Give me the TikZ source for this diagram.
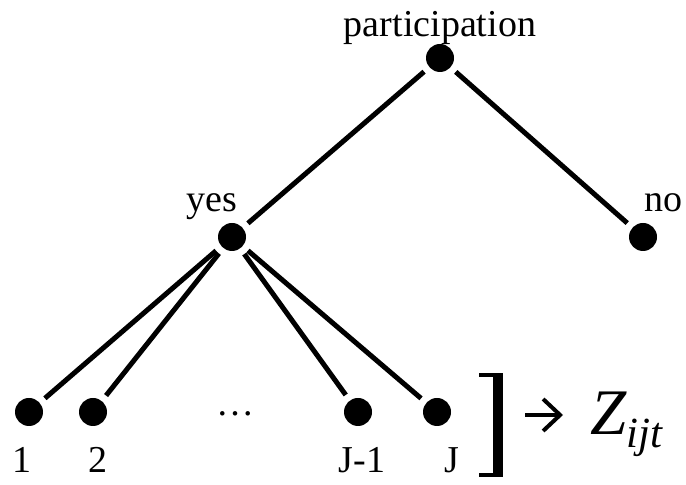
\documentclass[tikz,border=0pt]{standalone}
\usepackage{fontspec}
\setmainfont{Liberation Serif}
\usetikzlibrary{arrows.meta}
\begin{document}
\begin{tikzpicture}[x=0.5pt,y=-0.5pt,
  dot/.style={circle,fill=black,minimum size=14pt,inner sep=0pt,outer sep=3.5pt},
  edge/.style={line width=2.5pt},
  lbl/.style={anchor=base,inner sep=0pt,font=\fontsize{19}{22}\selectfont},
  brk/.style={fill=black},
]
\useasboundingbox (0,0) rectangle (686,485);
% nodes
\node[dot] (p) at (440,58) {};
\node[dot] (yes) at (232,237) {};
\node[dot] (no) at (643,237) {};
\node[dot] (b1) at (29,412) {};
\node[dot] (b2) at (93,412) {};
\node[dot] (bj1) at (358,412) {};
\node[dot] (bj) at (437,412) {};
% labels
\node[lbl] (lp) at (440,37) {participation};
\node[lbl] (lyes) at (212,212) {yes};
\node[lbl] (lno) at (663,212) {no};
\node[lbl] (l1) at (22,473) {1};
\node[lbl] (l2) at (98,473) {2};
\node[lbl] (lj1) at (362,473) {J-1};
\node[lbl] (lj) at (452,473) {J};
\node[lbl] (dots) at (235,416) {…};
% edges
\draw[edge] (p) -- (yes);
\draw[edge] (p) -- (no);
\draw[edge] (yes) -- (b1);
\draw[edge] (yes) -- (b2);
\draw[edge] (yes) -- (bj1);
\draw[edge] (yes) -- (bj);
% bracket
\fill[brk] (493,373) rectangle (503,477);
\fill[brk] (479,373) rectangle (503,377);
\fill[brk] (479,473) rectangle (503,477);
% arrow and Z
\coordinate (arrS) at (525,415);
\coordinate (arrE) at (563,415);
\draw[line width=2pt,-{Straight Barb[length=8.5pt,width=16pt]}] (arrS) -- (arrE);
\node[anchor=base west,inner sep=0pt] (z) at (590,435)
  {{\fontsize{32.5}{36}\selectfont\itshape Z}{\fontsize{21.5}{24}\selectfont\itshape\raisebox{-6.5pt}{ijt}}};
\end{tikzpicture}
\end{document}
